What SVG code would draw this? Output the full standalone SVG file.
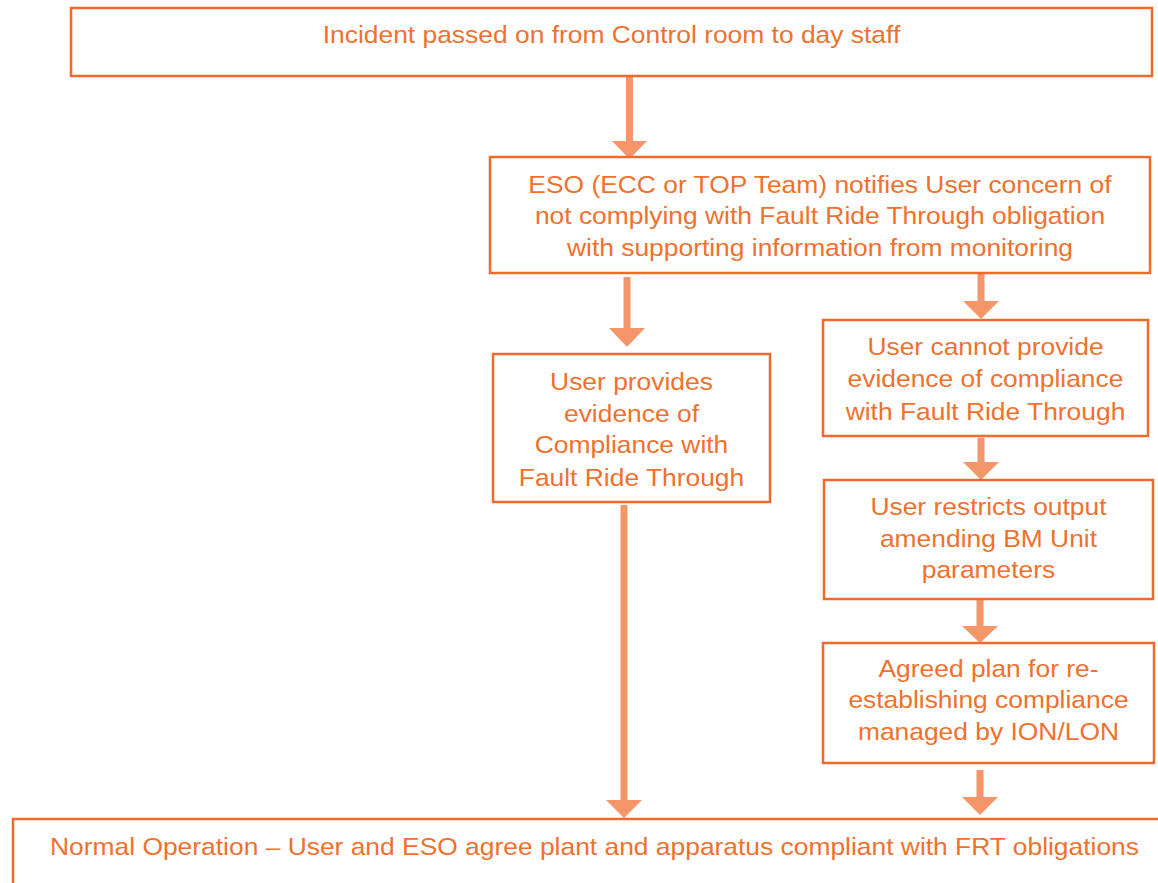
<svg xmlns="http://www.w3.org/2000/svg" width="1158" height="883" viewBox="0 0 1158 883">
<defs>
<style>
.box{fill:#FFFFFF;stroke:#F26A2B;stroke-width:2.5}
.t{font-family:"Liberation Sans",Arial,sans-serif;font-size:24px;fill:#F0712E;text-anchor:middle}
.arr{fill:#F4956A}
</style>
</defs>
<rect width="1158" height="883" fill="#FFFFFF"/>
<g id="connectors">
<polygon class="arr" points="626,76 633,76 633,141 647,141 629.5,159 612,141 626,141"/>
<polygon class="arr" points="623.5,277 630.5,277 630.5,328 645,328 627,347 609,328 623.5,328"/>
<polygon class="arr" points="977.5,274 984.5,274 984.5,301 999,301 981,319 963,301 977.5,301"/>
<polygon class="arr" points="977.5,438 984.5,438 984.5,462 999,462 981,480 963,462 977.5,462"/>
<polygon class="arr" points="976.5,600 983.5,600 983.5,626 998,626 980,643 962,626 976.5,626"/>
<polygon class="arr" points="620.5,505 627.5,505 627.5,800 642,800 624,818 606,800 620.5,800"/>
<polygon class="arr" points="976.5,770 983.5,770 983.5,797 998,797 980,815 962,797 976.5,797"/>
</g>
<g id="n1">
<rect class="box" x="71" y="8" width="1081" height="68"/>
<g transform="matrix(1.1 0 0 1 -61.15 0)">
<text class="t" x="611.5" y="43">Incident passed on from Control room to day staff</text>
</g>
</g>
<g id="n2">
<rect class="box" x="490" y="157" width="660" height="116"/>
<g transform="matrix(1.1 0 0 1 -82 0)">
<text class="t" x="820" y="193">ESO (ECC or TOP Team) notifies User concern of</text>
<text class="t" x="820" y="224">not complying with Fault Ride Through obligation</text>
<text class="t" x="820" y="256">with supporting information from monitoring</text>
</g>
</g>
<g id="n3">
<rect class="box" x="493" y="354" width="277" height="148"/>
<g transform="matrix(1.1 0 0 1 -63.15 0)">
<text class="t" x="631.5" y="390">User provides</text>
<text class="t" x="631.5" y="422">evidence of</text>
<text class="t" x="631.5" y="453">Compliance with</text>
<text class="t" x="631.5" y="486">Fault Ride Through</text>
</g>
</g>
<g id="n4">
<rect class="box" x="823" y="320" width="325" height="116"/>
<g transform="matrix(1.1 0 0 1 -98.55 0)">
<text class="t" x="985.5" y="355">User cannot provide</text>
<text class="t" x="985.5" y="387">evidence of compliance</text>
<text class="t" x="985.5" y="420">with Fault Ride Through</text>
</g>
</g>
<g id="n5">
<rect class="box" x="824" y="480" width="329" height="119"/>
<g transform="matrix(1.1 0 0 1 -98.85 0)">
<text class="t" x="988.5" y="515">User restricts output</text>
<text class="t" x="988.5" y="547">amending BM Unit</text>
<text class="t" x="988.5" y="578">parameters</text>
</g>
</g>
<g id="n6">
<rect class="box" x="823" y="643" width="331" height="120"/>
<g transform="matrix(1.1 0 0 1 -98.85 0)">
<text class="t" x="988.5" y="677">Agreed plan for re-</text>
<text class="t" x="988.5" y="708">establishing compliance</text>
<text class="t" x="988.5" y="740">managed by ION/LON</text>
</g>
</g>
<g id="n7">
<rect class="box" x="13" y="819" width="1163" height="80"/>
<g transform="matrix(1.1 0 0 1 -59.45 0)">
<text class="t" x="594.5" y="855">Normal Operation – User and ESO agree plant and apparatus compliant with FRT obligations</text>
</g>
</g>
</svg>
